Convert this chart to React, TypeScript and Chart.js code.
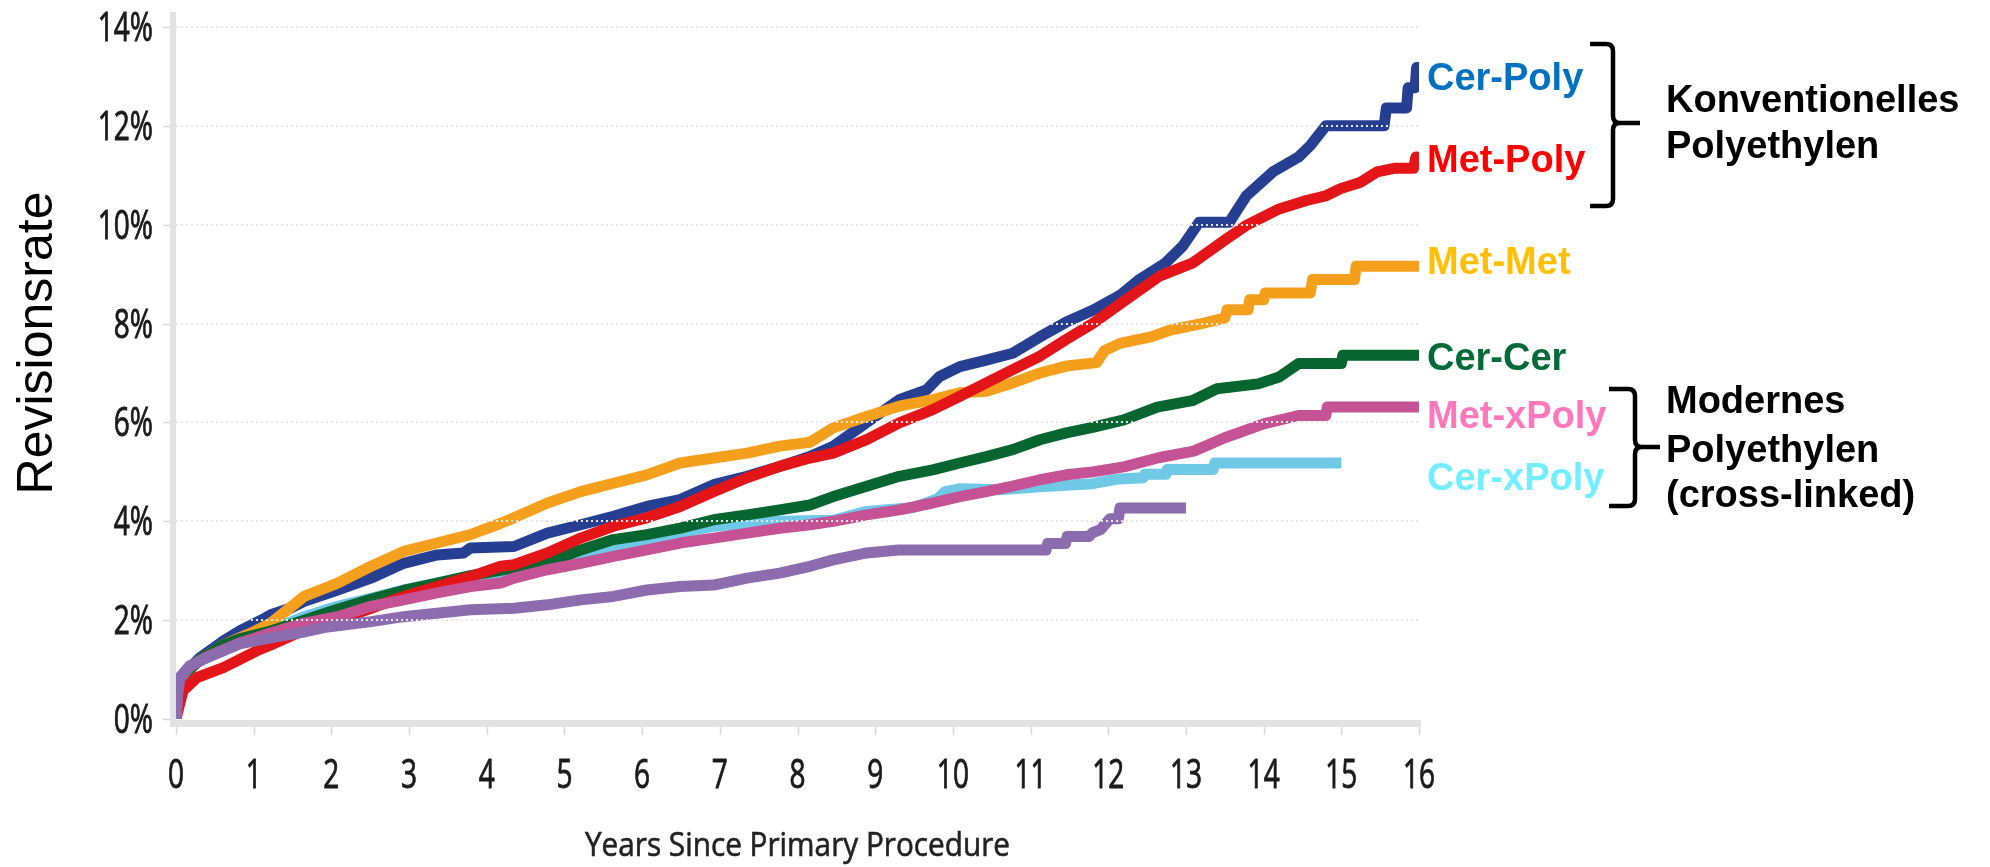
import { useEffect, useRef } from "react";
import { Chart, registerables } from "chart.js";

Chart.register(...registerables);

type Pt = [number, number];

// Axis ticks
const yearTicks = [0, 1, 2, 3, 4, 5, 6, 7, 8, 9, 10, 11, 12, 13, 14, 15, 16];
const rateTicks = [0, 2, 4, 6, 8, 10, 12, 14];

// Cumulative revision rate (%) by years since primary procedure
const cerPoly: Pt[] = [
  [0, 0], [0.02, 0.5], [0.05, 0.84], [0.14, 0.97], [0.31, 1.24], [0.61, 1.58], [0.82, 1.78],
  [1.12, 2.02], [1.22, 2.11], [1.47, 2.24], [1.65, 2.38], [2.08, 2.61], [2.51, 2.85],
  [2.93, 3.15], [3.36, 3.32], [3.7, 3.36], [3.79, 3.46], [4.35, 3.49], [4.78, 3.76],
  [5.21, 3.93], [5.63, 4.1], [6.06, 4.3], [6.49, 4.44], [6.92, 4.74], [7.35, 4.91],
  [7.77, 5.11], [8.16, 5.31], [8.46, 5.52], [8.89, 6.0], [9.31, 6.46], [9.66, 6.66],
  [9.83, 6.93], [10.09, 7.13], [10.43, 7.26], [10.77, 7.4], [11.12, 7.73], [11.46, 8.03],
  [11.8, 8.27], [12.15, 8.57], [12.4, 8.89], [12.74, 9.23], [12.96, 9.57], [13.17, 10.05],
  [13.56, 10.05], [13.6, 10.15], [13.78, 10.59], [14.12, 11.07], [14.45, 11.37], [14.6, 11.6],
  [14.8, 12.0], [15.55, 12.0], [15.58, 12.36], [15.84, 12.36], [15.86, 12.77], [15.95, 12.77],
  [15.97, 13.18], [16, 13.18],
];

const metPoly: Pt[] = [
  [0, 0], [0.03, 0.2], [0.09, 0.57], [0.27, 0.84], [0.61, 1.04], [1.04, 1.38], [1.25, 1.52],
  [1.65, 1.8], [2.08, 2.0], [2.51, 2.24], [2.93, 2.48], [3.36, 2.68], [3.79, 2.88],
  [4.18, 3.09], [4.35, 3.12], [4.78, 3.36], [5.21, 3.66], [5.63, 3.9], [6.06, 4.07],
  [6.49, 4.3], [6.92, 4.6], [7.35, 4.88], [7.77, 5.11], [8.16, 5.28], [8.46, 5.38],
  [8.89, 5.65], [9.31, 5.99], [9.74, 6.26], [10.09, 6.53], [10.43, 6.8], [10.77, 7.07],
  [11.12, 7.34], [11.46, 7.68], [11.8, 8.0], [12.2, 8.45], [12.66, 8.96], [13.09, 9.23],
  [13.52, 9.71], [13.77, 9.98], [14.2, 10.32], [14.55, 10.49], [14.81, 10.59], [14.99, 10.73],
  [15.25, 10.86], [15.46, 11.07], [15.68, 11.14], [15.93, 11.14], [15.96, 11.37], [16, 11.2],
];

const metMet: Pt[] = [
  [0, 0], [0.02, 0.5], [0.05, 0.82], [0.14, 0.95], [0.31, 1.2], [0.61, 1.5], [0.82, 1.64],
  [1.01, 1.77], [1.22, 1.94], [1.65, 2.48], [2.08, 2.75], [2.51, 3.09], [2.93, 3.39],
  [3.36, 3.56], [3.79, 3.73], [4.18, 3.96], [4.35, 4.07], [4.78, 4.37], [5.21, 4.6],
  [5.63, 4.77], [6.06, 4.94], [6.49, 5.18], [6.92, 5.28], [7.35, 5.38], [7.77, 5.52],
  [8.16, 5.6], [8.46, 5.89], [8.89, 6.12], [9.31, 6.33], [9.74, 6.46], [10.09, 6.6],
  [10.43, 6.63], [10.77, 6.8], [11.12, 7.0], [11.46, 7.14], [11.85, 7.21], [11.95, 7.45],
  [12.15, 7.6], [12.55, 7.73], [12.8, 7.87], [13.2, 8.0], [13.5, 8.11], [13.53, 8.28],
  [13.8, 8.28], [13.82, 8.48], [14.0, 8.48], [14.02, 8.62], [14.6, 8.62], [14.63, 8.89],
  [15.17, 8.89], [15.19, 9.16], [16, 9.16],
];

const cerCer: Pt[] = [
  [0, 0], [0.02, 0.5], [0.05, 0.82], [0.14, 0.95], [0.31, 1.2], [0.61, 1.5], [0.82, 1.62],
  [1.22, 1.78], [1.65, 2.0], [2.08, 2.22], [2.51, 2.42], [2.93, 2.6], [3.36, 2.75],
  [3.79, 2.9], [4.35, 3.06], [5.0, 3.29], [5.21, 3.42], [5.63, 3.63], [6.06, 3.73],
  [6.49, 3.86], [6.92, 4.03], [7.35, 4.13], [7.77, 4.23], [8.16, 4.33], [8.46, 4.5],
  [8.89, 4.71], [9.31, 4.91], [9.74, 5.04], [10.09, 5.18], [10.43, 5.31], [10.77, 5.45],
  [11.12, 5.65], [11.46, 5.79], [11.8, 5.9], [12.2, 6.05], [12.63, 6.31], [13.08, 6.44],
  [13.4, 6.68], [13.93, 6.78], [14.2, 6.92], [14.45, 7.19], [15.0, 7.19], [15.02, 7.36],
  [16, 7.36],
];

const metXPoly: Pt[] = [
  [0, 0], [0.02, 0.5], [0.05, 0.82], [0.18, 1.06], [0.4, 1.26], [0.82, 1.54], [1.22, 1.74],
  [1.65, 1.94], [2.08, 2.07], [2.51, 2.28], [2.93, 2.41], [3.36, 2.55], [3.79, 2.68],
  [4.18, 2.75], [4.35, 2.85], [4.78, 3.02], [5.21, 3.15], [5.63, 3.29], [6.06, 3.42],
  [6.49, 3.56], [6.92, 3.66], [7.35, 3.76], [7.77, 3.86], [8.16, 3.93], [8.46, 4.0],
  [8.89, 4.13], [9.31, 4.23], [9.74, 4.37], [10.09, 4.5], [10.43, 4.6], [10.77, 4.71],
  [11.12, 4.84], [11.46, 4.94], [11.8, 5.0], [12.2, 5.1], [12.66, 5.29], [13.1, 5.42],
  [13.5, 5.69], [14.0, 5.97], [14.45, 6.14], [14.8, 6.14], [14.82, 6.31], [16, 6.31],
];

const cerXPoly: Pt[] = [
  [0, 0], [0.02, 0.5], [0.05, 0.84], [0.14, 0.97], [0.31, 1.24], [0.61, 1.55], [0.82, 1.65],
  [1.22, 1.8], [1.65, 2.07], [2.08, 2.28], [2.51, 2.44], [2.93, 2.61], [3.36, 2.75],
  [3.92, 2.88], [4.35, 3.02], [4.78, 3.19], [5.21, 3.36], [5.63, 3.49], [6.06, 3.63],
  [6.49, 3.76], [6.92, 3.9], [7.35, 3.96], [7.77, 4.0], [8.46, 4.02], [8.89, 4.2],
  [9.5, 4.28], [9.8, 4.45], [9.9, 4.6], [10.1, 4.66], [10.6, 4.64], [11.12, 4.7],
  [11.8, 4.76], [12.1, 4.85], [12.45, 4.88], [12.47, 4.95], [12.74, 4.95], [12.76, 5.05],
  [13.35, 5.05], [13.37, 5.18], [15, 5.18],
];

const otherPair: Pt[] = [
  [0, 0], [0.02, 0.5], [0.05, 0.84], [0.18, 1.08], [0.4, 1.24], [0.82, 1.52], [1.25, 1.65],
  [1.65, 1.76], [1.9, 1.85], [2.51, 1.97], [2.93, 2.07], [3.36, 2.14], [3.79, 2.21],
  [4.35, 2.24], [4.78, 2.31], [5.21, 2.41], [5.63, 2.48], [6.06, 2.61], [6.49, 2.68],
  [6.92, 2.71], [7.35, 2.85], [7.77, 2.95], [8.16, 3.09], [8.46, 3.22], [8.89, 3.36],
  [9.3, 3.42], [11.2, 3.42], [11.22, 3.55], [11.45, 3.55], [11.47, 3.69], [11.75, 3.69],
  [11.8, 3.77], [11.9, 3.83], [12.02, 4.05], [12.13, 4.05], [12.15, 4.27], [13.0, 4.27],
];

// Drawn top-most first
const series = [
  { name: "Other", data: otherPair, color: "#8c6cae" },
  { name: "Met-xPoly", data: metXPoly, color: "#c65296" },
  { name: "Met-Poly", data: metPoly, color: "#e31519" },
  { name: "Cer-Cer", data: cerCer, color: "#07652f" },
  { name: "Met-Met", data: metMet, color: "#f5a01c" },
  { name: "Cer-Poly", data: cerPoly, color: "#263f92" },
  { name: "Cer-xPoly", data: cerXPoly, color: "#6ec8e6" },
];

// End-of-line labels
const endLabels = [
  { text: "Cer-Poly", color: "#0070c0", y: 80 },
  { text: "Met-Poly", color: "#ff0000", y: 162 },
  { text: "Met-Met", color: "#ffc000", y: 264 },
  { text: "Cer-Cer", color: "#006a38", y: 360 },
  { text: "Met-xPoly", color: "#ff78bd", y: 418 },
  { text: "Cer-xPoly", color: "#72eeff", y: 480 },
];

const groupLabels = [
  { lines: ["Konventionelles", "Polyethylen"], ys: [102, 148] },
  { lines: ["Modernes", "Polyethylen", "(cross-linked)"], ys: [403, 452, 497] },
];

const braces = [
  { arm: 1590, spine: 1613, tip: 1640, top: 44, mid: 123, bottom: 206 },
  { arm: 1609, spine: 1635, tip: 1660, top: 389, mid: 447, bottom: 506 },
];

const TICK_FONT = '"Open Sans", "DejaVu Sans", sans-serif';
const LABEL_FONT = '"Liberation Sans", Arial, sans-serif';

function drawCondensed(
  ctx: CanvasRenderingContext2D,
  text: string,
  x: number,
  y: number,
  sx: number,
  align: CanvasTextAlign,
  weight = 0
) {
  ctx.save();
  ctx.translate(x, y);
  ctx.scale(sx, 1);
  ctx.textAlign = align;
  ctx.textBaseline = "alphabetic";
  ctx.fillText(text, 0, 0);
  if (weight > 0) {
    ctx.lineWidth = weight;
    ctx.strokeStyle = ctx.fillStyle as string;
    ctx.strokeText(text, 0, 0);
  }
  ctx.restore();
}

function drawBrace(ctx: CanvasRenderingContext2D, b: typeof braces[number]) {
  const r = 7;
  ctx.beginPath();
  ctx.moveTo(b.arm, b.top);
  ctx.lineTo(b.spine - r, b.top);
  ctx.quadraticCurveTo(b.spine, b.top, b.spine, b.top + r);
  ctx.lineTo(b.spine, b.mid - r);
  ctx.quadraticCurveTo(b.spine, b.mid, b.spine + r, b.mid);
  ctx.lineTo(b.tip, b.mid);
  ctx.moveTo(b.spine + r, b.mid);
  ctx.quadraticCurveTo(b.spine, b.mid, b.spine, b.mid + r);
  ctx.lineTo(b.spine, b.bottom - r);
  ctx.quadraticCurveTo(b.spine, b.bottom, b.spine - r, b.bottom);
  ctx.lineTo(b.arm, b.bottom);
  ctx.stroke();
}

const decorations = {
  id: "decorations",
  beforeDatasetsDraw(chart: Chart) {
    const { ctx, chartArea, scales } = chart;
    const xs = scales.x;
    const ys = scales.y;
    ctx.save();
    ctx.fillStyle = "#e2e2e2";
    // axis lines
    ctx.fillRect(chartArea.left - 6, 12, 6, chartArea.bottom + 8 - 12);
    ctx.fillRect(chartArea.left - 6, chartArea.bottom + 1, chartArea.right + 2 - (chartArea.left - 6), 7);
    // tick marks
    ctx.strokeStyle = "#d6d6d6";
    ctx.lineWidth = 1.5;
    ctx.beginPath();
    for (const v of rateTicks) {
      const y = Math.round(ys.getPixelForValue(v)) + 0.5;
      ctx.moveTo(chartArea.left - 13, y);
      ctx.lineTo(chartArea.left - 6, y);
    }
    for (const v of yearTicks) {
      const x = Math.round(xs.getPixelForValue(v)) + 0.5;
      ctx.moveTo(x, chartArea.bottom + 8);
      ctx.lineTo(x, chartArea.bottom + 16);
    }
    ctx.stroke();
    ctx.restore();
  },
  afterDraw(chart: Chart) {
    const { ctx, chartArea, scales } = chart;
    const xs = scales.x;
    const ys = scales.y;
    ctx.save();
    ctx.fillStyle = "#1a1a1a";
    ctx.font = `40px ${TICK_FONT}`;
    for (const v of rateTicks) {
      drawCondensed(ctx, `${v}%`, chartArea.left - 23, ys.getPixelForValue(v) + 14, 0.7, "right", 0.9);
    }
    for (const v of yearTicks) {
      drawCondensed(ctx, `${v}`, xs.getPixelForValue(v), chartArea.bottom + 69, 0.7, "center", 0.9);
    }

    // x-axis title
    ctx.fillStyle = "#222";
    ctx.font = `33px ${TICK_FONT}`;
    const xt = "Years Since Primary Procedure";
    const w = ctx.measureText(xt).width;
    drawCondensed(ctx, xt, (chartArea.left + chartArea.right) / 2, 856, 425 / w, "center", 0.6);

    // y-axis title
    ctx.fillStyle = "#000";
    ctx.font = `50px ${LABEL_FONT}`;
    ctx.save();
    ctx.translate(52, 343);
    ctx.rotate(-Math.PI / 2);
    ctx.textAlign = "center";
    ctx.textBaseline = "alphabetic";
    ctx.fillText("Revisionsrate", 0, 0);
    ctx.restore();

    // end labels
    ctx.font = `bold 38px ${LABEL_FONT}`;
    ctx.textAlign = "left";
    ctx.textBaseline = "middle";
    for (const l of endLabels) {
      ctx.fillStyle = l.color;
      ctx.fillText(l.text, chartArea.right + 8, l.y);
    }

    // group labels
    ctx.fillStyle = "#000";
    for (const g of groupLabels) {
      g.lines.forEach((t, i) => ctx.fillText(t, 1666, g.ys[i]));
    }

    // braces
    ctx.strokeStyle = "#000";
    ctx.lineWidth = 4.5;
    ctx.lineCap = "butt";
    ctx.lineJoin = "round";
    for (const b of braces) drawBrace(ctx, b);
    ctx.restore();
  },
};

export default function App() {
  const canvasRef = useRef<HTMLCanvasElement | null>(null);

  useEffect(() => {
    const canvas = canvasRef.current;
    if (!canvas) return;
    const chart = new Chart(canvas, {
      type: "line",
      data: {
        datasets: series.map((s) => ({
          label: s.name,
          data: s.data.map(([x, y]) => ({ x, y })),
          borderColor: s.color,
          backgroundColor: s.color,
          borderWidth: 11,
          pointRadius: 0,
          pointHoverRadius: 0,
          fill: false,
          tension: 0,
          borderCapStyle: "butt",
          borderJoinStyle: "round",
        })),
      },
      options: {
        animation: false,
        responsive: false,
        maintainAspectRatio: false,
        layout: { padding: { top: 27, right: 571, left: 0, bottom: 0 } },
        plugins: { legend: { display: false }, tooltip: { enabled: false } },
        scales: {
          x: {
            type: "linear",
            min: 0,
            max: 16,
            ticks: { display: false, stepSize: 1 },
            grid: { display: false },
            border: { display: false },
            afterFit: (s: any) => {
              s.height = 148;
            },
          },
          y: {
            type: "linear",
            min: 0,
            max: 14,
            ticks: { display: false, stepSize: 2 },
            grid: {
              color: (c: any) => (c.tick && c.tick.value === 0 ? "rgba(0,0,0,0)" : "#e6e6e6"),
              lineWidth: 2,
              drawTicks: false,
              z: 1,
            },
            border: { display: false, dash: [2, 3] },
            afterFit: (s: any) => {
              s.width = 176;
            },
          },
        },
      },
      plugins: [decorations],
    });
    return () => chart.destroy();
  }, []);

  return (
    <div style={{ position: "absolute", left: 0, top: 0, width: 1990, height: 867, background: "#fff" }}>
      <canvas ref={canvasRef} width={1990} height={867} style={{ display: "block" }} />
    </div>
  );
}
